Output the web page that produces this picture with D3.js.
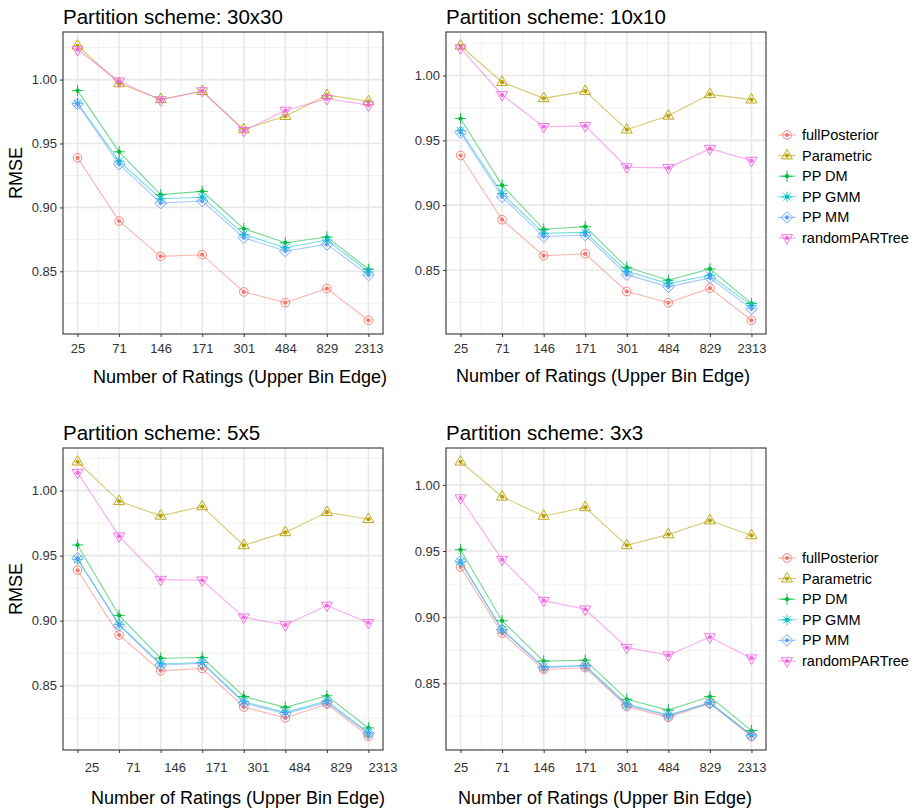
<!DOCTYPE html>
<html>
<head>
<meta charset="utf-8">
<script src="https://cdn.jsdelivr.net/npm/d3@7"></script>
<style>
  body { margin: 0; background: #fff; }
  svg { display: block; font-family: "Liberation Sans", Arial, sans-serif; }
</style>
</head>
<body>
<svg id="chart"></svg>
<script>
// categories on the x axis (upper bin edge)
let categories = ['25', '71', '146', '171', '301', '484', '829', '2313']
let methods = ['fullPosterior', 'Parametric', 'PP DM', 'PP GMM', 'PP MM', 'randomPARTree']
let yTicks = [0.85, 0.90, 0.95, 1.00]
let panelTitles = ['Partition scheme: 30x30', 'Partition scheme: 10x10', 'Partition scheme: 5x5', 'Partition scheme: 3x3']

// RMSE per method (rows follow `methods`), one array per partition scheme
let rmse30x30 = [
  [0.9388, 0.8893, 0.8617, 0.8630, 0.8339, 0.8255, 0.8365, 0.8117],
  [1.0265, 0.9970, 0.9846, 0.9909, 0.9610, 0.9714, 0.9878, 0.9830],
  [0.9914, 0.9435, 0.9100, 0.9125, 0.8833, 0.8724, 0.8768, 0.8516],
  [0.9815, 0.9362, 0.9068, 0.9080, 0.8789, 0.8685, 0.8745, 0.8495],
  [0.9810, 0.9339, 0.9034, 0.9050, 0.8763, 0.8659, 0.8711, 0.8471],
  [1.0234, 0.9987, 0.9840, 0.9910, 0.9600, 0.9758, 0.9850, 0.9800]
]
let rmse10x10 = [
  [0.9383, 0.8888, 0.8610, 0.8625, 0.8334, 0.8247, 0.8360, 0.8112],
  [1.0230, 0.9949, 0.9824, 0.9880, 0.9582, 0.9689, 0.9855, 0.9814],
  [0.9668, 0.9153, 0.8814, 0.8834, 0.8520, 0.8421, 0.8508, 0.8242],
  [0.9574, 0.9090, 0.8783, 0.8790, 0.8490, 0.8395, 0.8459, 0.8227],
  [0.9561, 0.9064, 0.8758, 0.8770, 0.8464, 0.8370, 0.8439, 0.8200],
  [1.0212, 0.9850, 0.9605, 0.9612, 0.9293, 0.9288, 0.9436, 0.9344]
]
let rmse5x5 = [
  [0.9388, 0.8890, 0.8615, 0.8633, 0.8337, 0.8253, 0.8360, 0.8112],
  [1.0222, 0.9918, 0.9806, 0.9878, 0.9579, 0.9679, 0.9834, 0.9780],
  [0.9582, 0.9041, 0.8712, 0.8717, 0.8418, 0.8334, 0.8423, 0.8176],
  [0.9472, 0.8972, 0.8668, 0.8679, 0.8378, 0.8296, 0.8383, 0.8138],
  [0.9480, 0.8964, 0.8658, 0.8673, 0.8367, 0.8286, 0.8372, 0.8133],
  [1.0138, 0.9650, 0.9316, 0.9311, 0.9026, 0.8967, 0.9117, 0.8985]
]
let rmse3x3 = [
  [0.9380, 0.8880, 0.8605, 0.8618, 0.8325, 0.8243, 0.8350, 0.8100],
  [1.0175, 0.9910, 0.9765, 0.9830, 0.9543, 0.9625, 0.9730, 0.9618],
  [0.9510, 0.8973, 0.8668, 0.8675, 0.8380, 0.8298, 0.8400, 0.8143],
  [0.9418, 0.8905, 0.8623, 0.8635, 0.8343, 0.8260, 0.8355, 0.8110],
  [0.9425, 0.8905, 0.8620, 0.8633, 0.8335, 0.8255, 0.8350, 0.8105],
  [0.9900, 0.9435, 0.9125, 0.9060, 0.8770, 0.8713, 0.8850, 0.8690]
]

let width = 917
let height = 811
let colors = ['#F8766D', '#B79F00', '#00BA38', '#00BFC4', '#619CFF', '#F564E3']
let shapes = ['circle', 'triangle', 'plus', 'asterisk', 'diamond', 'triangleDown']

let svg = d3.select('#chart')
  .attr('width', width)
  .attr('height', height)

// marker outline path for each ggplot-like shape
let shapePath = (shape) => {
  let p = d3.path()
  if (shape == 'circle') {
    p.arc(0, 0, 4.3, 0, 2 * Math.PI)
  } else if (shape == 'triangle') {
    p.moveTo(0, -6.2); p.lineTo(5.5, 3.3); p.lineTo(-5.5, 3.3); p.closePath()
  } else if (shape == 'triangleDown') {
    p.moveTo(0, 6.2); p.lineTo(5.5, -3.3); p.lineTo(-5.5, -3.3); p.closePath()
  } else if (shape == 'plus') {
    p.moveTo(-5.7, 0); p.lineTo(5.7, 0); p.moveTo(0, -5.7); p.lineTo(0, 5.7)
  } else if (shape == 'asterisk') {
    p.moveTo(-5.2, 0); p.lineTo(5.2, 0); p.moveTo(0, -5.2); p.lineTo(0, 5.2)
    p.moveTo(-3.7, -3.7); p.lineTo(3.7, 3.7); p.moveTo(-3.7, 3.7); p.lineTo(3.7, -3.7)
  } else if (shape == 'diamond') {
    p.moveTo(0, -5.8); p.lineTo(5.8, 0); p.lineTo(0, 5.8); p.lineTo(-5.8, 0); p.closePath()
  }
  return p.toString()
}

let drawMarker = (g, x, y, i) => {
  g.append('path')
    .attr('d', shapePath(shapes[i]))
    .attr('transform', 'translate(' + x + ',' + y + ')')
    .attr('fill', 'none')
    .attr('stroke', colors[i])
    .attr('stroke-width', 0.9)
  g.append('circle')
    .attr('cx', x)
    .attr('cy', y)
    .attr('r', 2.1)
    .attr('fill', colors[i])
}

let panels = [
  { data: rmse30x30, left: 63, top: 32, right: 383, bottom: 334, labY: 348, titleY: 377, titleX: 240, shift: 0, rmse: 173 },
  { data: rmse10x10, left: 446, top: 32, right: 766, bottom: 334, labY: 348, titleY: 376, titleX: 603, shift: 0, rmse: null },
  { data: rmse5x5, left: 63, top: 448, right: 383, bottom: 750, labY: 767, titleY: 798, titleX: 238, shift: 14, rmse: 589 },
  { data: rmse3x3, left: 446, top: 448, right: 766, bottom: 750, labY: 767, titleY: 798, titleX: 605, shift: 0, rmse: null }
]

let drawPanel = (pn, k) => {
  let g = svg.append('g')

  let all = pn.data.flat()
  let lo = d3.min(all)
  let hi = d3.max(all)
  let pad = (hi - lo) * 0.05

  let xScale = d3.scalePoint()
    .domain(categories)
    .range([pn.left, pn.right])
    .padding(0.35)

  let yScale = d3.scaleLinear()
    .domain([lo - pad, hi + pad])
    .range([pn.bottom, pn.top])

  // minor grid
  let minorY = []
  yTicks.forEach((t) => { minorY.push(t - 0.025); minorY.push(t + 0.025) })
  minorY = Array.from(new Set(minorY.map((v) => v.toFixed(3)))).map(Number)
    .filter((v) => v > yScale.domain()[0] && v < yScale.domain()[1])
  g.selectAll('.minor-y')
    .data(minorY)
    .enter()
    .append('line')
    .attr('x1', pn.left).attr('x2', pn.right)
    .attr('y1', (d) => yScale(d)).attr('y2', (d) => yScale(d))
    .attr('stroke', '#f2f2f2').attr('stroke-width', 1)

  let step = xScale.step()
  g.selectAll('.minor-x')
    .data(categories.slice(1))
    .enter()
    .append('line')
    .attr('x1', (d) => xScale(d) - step / 2).attr('x2', (d) => xScale(d) - step / 2)
    .attr('y1', pn.top).attr('y2', pn.bottom)
    .attr('stroke', '#f2f2f2').attr('stroke-width', 1)

  // major grid
  g.selectAll('.major-y')
    .data(yTicks)
    .enter()
    .append('line')
    .attr('x1', pn.left).attr('x2', pn.right)
    .attr('y1', (d) => yScale(d)).attr('y2', (d) => yScale(d))
    .attr('stroke', '#e8e8e8').attr('stroke-width', 1.6)
  g.selectAll('.major-x')
    .data(categories)
    .enter()
    .append('line')
    .attr('x1', (d) => xScale(d)).attr('x2', (d) => xScale(d))
    .attr('y1', pn.top).attr('y2', pn.bottom)
    .attr('stroke', '#e8e8e8').attr('stroke-width', 1.6)

  // lines
  let line = d3.line()
    .x((d, i) => xScale(categories[i]))
    .y((d) => yScale(d))
  pn.data.forEach((series, i) => {
    g.append('path')
      .attr('d', line(series))
      .attr('fill', 'none')
      .attr('stroke', colors[i])
      .attr('stroke-opacity', 0.55)
      .attr('stroke-width', 1.1)
  })

  // points
  pn.data.forEach((series, i) => {
    series.forEach((v, j) => {
      drawMarker(g, xScale(categories[j]), yScale(v), i)
    })
  })

  // border
  g.append('rect')
    .attr('x', pn.left).attr('y', pn.top)
    .attr('width', pn.right - pn.left).attr('height', pn.bottom - pn.top)
    .attr('fill', 'none').attr('stroke', '#333').attr('stroke-width', 1.1)

  // axes
  let xAxis = d3.axisBottom(xScale).tickSize(3).tickPadding(4)
  let xg = g.append('g')
    .attr('transform', 'translate(0,' + pn.bottom + ')')
    .call(xAxis)
  xg.select('.domain').remove()
  xg.selectAll('line').attr('stroke', '#333')
  xg.selectAll('text')
    .attr('y', pn.labY - pn.bottom)
    .attr('dy', '0.35em')
    .attr('x', pn.shift)
    .attr('fill', '#333')
    .style('font-size', '13px')
    .style('font-family', '"Liberation Sans", Arial, sans-serif')

  let yAxis = d3.axisLeft(yScale).tickValues(yTicks).tickFormat(d3.format('.2f')).tickSize(3).tickPadding(3)
  let yg = g.append('g')
    .attr('transform', 'translate(' + pn.left + ',0)')
    .call(yAxis)
  yg.select('.domain').remove()
  yg.selectAll('line').attr('stroke', '#333')
  yg.selectAll('text')
    .attr('fill', '#333')
    .style('font-size', '13px')
    .style('font-family', '"Liberation Sans", Arial, sans-serif')

  // titles
  g.append('text')
    .attr('x', pn.left)
    .attr('y', pn.top - 8)
    .style('font-size', '20.5px')
    .attr('fill', '#000')
    .text(panelTitles[k])

  g.append('text')
    .attr('x', pn.titleX)
    .attr('y', pn.titleY)
    .attr('dy', '0.35em')
    .attr('text-anchor', 'middle')
    .style('font-size', '18px')
    .attr('fill', '#000')
    .text('Number of Ratings (Upper Bin Edge)')

  if (pn.rmse != null) {
    g.append('text')
      .attr('transform', 'translate(16,' + pn.rmse + ') rotate(-90)')
      .attr('dy', '0.35em')
      .attr('text-anchor', 'middle')
      .style('font-size', '18px')
      .attr('fill', '#000')
      .text('RMSE')
  }
}

panels.forEach((pn, k) => drawPanel(pn, k))

// legends, one beside each row of panels
let drawLegend = (top) => {
  let lg = svg.append('g')
  methods.forEach((m, i) => {
    let y = top + i * 20.6
    lg.append('line')
      .attr('x1', 778).attr('x2', 796)
      .attr('y1', y).attr('y2', y)
      .attr('stroke', colors[i])
      .attr('stroke-opacity', 0.55)
      .attr('stroke-width', 1.1)
    drawMarker(lg, 787, y, i)
    lg.append('text')
      .attr('x', 802)
      .attr('y', y)
      .attr('dy', '0.35em')
      .style('font-size', '14.5px')
      .attr('fill', '#000')
      .text(m)
  })
}
drawLegend(135)
drawLegend(558)
</script>
</body>
</html>
